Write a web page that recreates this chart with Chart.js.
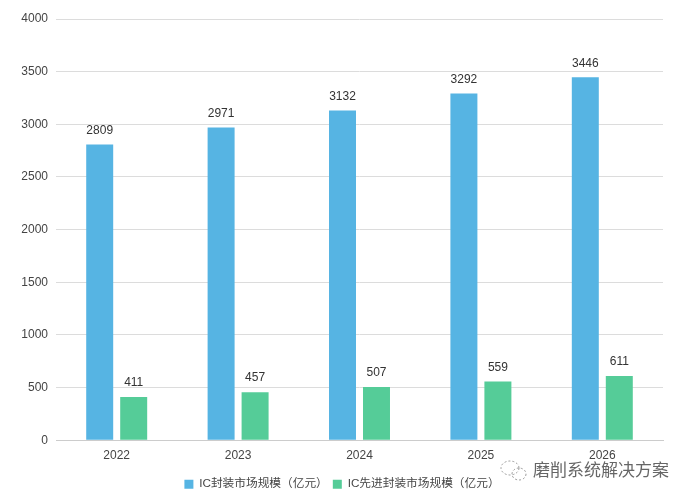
<!DOCTYPE html>
<html>
<head>
<meta charset="utf-8">
<script src="https://cdn.jsdelivr.net/npm/chart.js@4/dist/chart.umd.js"></script>
<style>
  html, body { margin: 0; padding: 0; background: #fff; }
  #wrap { position: relative; width: 690px; height: 500px; }
</style>
</head>
<body>
<div id="wrap"><canvas id="myChart" width="690" height="500"></canvas></div>
<script>
const years = ['2022', '2023', '2024', '2025', '2026'];
const packaging = [2809, 2971, 3132, 3292, 3446];
const advanced = [411, 457, 507, 559, 611];
const watermark = '磨削系统解决方案';

const latin = '"Liberation Sans", Arial, sans-serif';

// value labels above each bar
const barLabels = {
  id: 'barLabels',
  afterDatasetsDraw(chart) {
    const ctx = chart.ctx;
    ctx.save();
    ctx.font = '12px ' + latin;
    ctx.fillStyle = '#333';
    ctx.textAlign = 'center';
    ctx.textBaseline = 'bottom';
    chart.data.datasets.forEach((ds, i) => {
      chart.getDatasetMeta(i).data.forEach((bar, j) => {
        ctx.fillText(ds.data[j], bar.x, bar.y - 8);
      });
    });
    ctx.restore();
  }
};

// account stamp in the lower right corner
const stamp = {
  id: 'stamp',
  afterDraw(chart) {
    const ctx = chart.ctx;
    ctx.save();
    ctx.font = '17px "Noto Sans CJK SC", sans-serif';
    ctx.textAlign = 'left';
    ctx.textBaseline = 'middle';
    ctx.lineWidth = 3;
    ctx.strokeStyle = 'rgba(255,255,255,0.9)';
    ctx.strokeText(watermark, 533, 470);
    ctx.fillStyle = '#666';
    ctx.fillText(watermark, 533, 470);
    ctx.strokeStyle = '#999';
    ctx.lineWidth = 1;
    ctx.setLineDash([2, 2]);
    ctx.beginPath();
    ctx.ellipse(510, 468, 9, 7, 0, 0, Math.PI * 2);
    ctx.stroke();
    ctx.beginPath();
    ctx.ellipse(519, 474, 7, 6, 0, 0, Math.PI * 2);
    ctx.stroke();
    ctx.restore();
  }
};

new Chart(document.getElementById('myChart'), {
  type: 'bar',
  data: {
    labels: years,
    datasets: [
      { label: 'IC封装市场规模（亿元）', data: packaging, backgroundColor: '#56b4e3', categoryPercentage: 0.56, barPercentage: 0.794 },
      { label: 'IC先进封装市场规模（亿元）', data: advanced, backgroundColor: '#55cc98', categoryPercentage: 0.56, barPercentage: 0.794 }
    ]
  },
  options: {
    responsive: false,
    animation: false,
    layout: { padding: { left: 21, right: 27, top: 19, bottom: 0 } },
    scales: {
      x: {
        afterFit: (s) => { s.height = 33; },
        grid: { display: false },
        border: { color: '#ccc' },
        ticks: { color: '#444', font: { size: 12, family: latin }, padding: 0 }
      },
      y: {
        min: 0, max: 4000,
        afterFit: (s) => { s.width = 35; },
        ticks: { stepSize: 500, color: '#444', font: { size: 12, family: latin }, padding: 8, callback: (v) => String(v) },
        grid: { color: '#dcdcdc', tickLength: 0 },
        border: { display: false }
      }
    },
    plugins: {
      legend: {
        position: 'bottom',
        labels: { boxWidth: 9, boxHeight: 9, color: '#444', padding: 5, font: { size: 11.7, family: '"Liberation Sans", "Noto Sans CJK SC", sans-serif' } }
      },
      tooltip: { enabled: false }
    }
  },
  plugins: [barLabels, stamp]
});
</script>
</body>
</html>
